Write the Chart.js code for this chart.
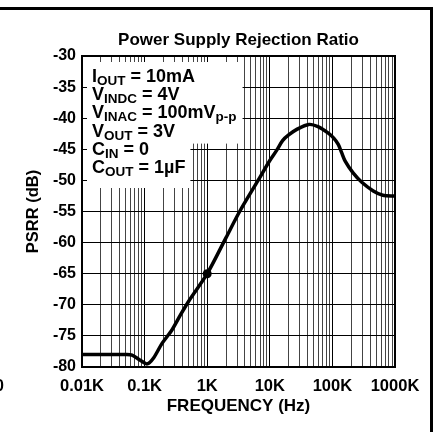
<!DOCTYPE html>
<html>
<head>
<meta charset="utf-8">
<script src="https://cdn.jsdelivr.net/npm/chart.js@4.4.0/dist/chart.umd.min.js"></script>
<style>
  html, body { margin: 0; padding: 0; background: #fff; }
  #wrap { position: relative; width: 435px; height: 432px; overflow: hidden; }
  #frame { position: absolute; left: -10px; top: 7px; width: 443px; height: 440px; box-sizing: border-box;
           border-top: 3px solid #000; border-right: 3px solid #000; pointer-events: none; }
  #stray { position: absolute; left: -5px; top: 377px; font: bold 16px "Liberation Sans", Arial, sans-serif; }
</style>
</head>
<body>
<div id="wrap">
  <canvas id="psrr-chart" width="435" height="432"></canvas>
  <div id="frame"></div>
  <div id="stray">0</div>
</div>
<script>
// curve
const freqHz = [10, 30, 50, 63, 85, 110, 140, 190, 275, 380, 515, 1000, 2000, 3300, 6500,
  10000, 13000, 16000, 20000, 27000, 42000, 60000, 86000, 105000, 124000, 140000, 160000, 214000,
  295000, 450000, 640000, 1000000];
const psrrDb = [-78, -78, -78, -78.1, -78.9, -79.5, -78.5, -76.2, -74, -71.5, -69.3, -65, -59.2, -55, -50,
  -46.8, -45.1, -43.6, -42.7, -41.8, -41, -41.4, -42.4, -43.2, -44.2, -45.5, -46.9, -48.8,
  -50.3, -51.7, -52.4, -52.5];
const markerFreq = 1000;

const decadeTicks = [10, 100, 1000, 10000, 100000, 1000000];
const decadeLabels = ['0.01K', '0.1K', '1K', '10K', '100K', '1000K'];

const conditions = [
  [['I', 0], ['OUT', 1], [' = 10mA', 0]],
  [['V', 0], ['INDC', 1], [' = 4V', 0]],
  [['V', 0], ['INAC', 1], [' = 100mV', 0], ['p-p', 1]],
  [['V', 0], ['OUT', 1], [' = 3V', 0]],
  [['C', 0], ['IN', 1], [' = 0', 0]],
  [['C', 0], ['OUT', 1], [' = 1µF', 0]]
];

const FAMILY = '"Liberation Sans", Arial, Helvetica, sans-serif';
Chart.defaults.font.family = FAMILY;
Chart.defaults.color = '#000';

// grid lines at 1..9 per decade
const gridFreqs = [];
decadeTicks.forEach((d, i) => {
  if (i === decadeTicks.length - 1) { gridFreqs.push(d); return; }
  for (let m = 1; m <= 9; m++) gridFreqs.push(d * m);
});

const mainFont = 'bold 18px ' + FAMILY;
const subFont = 'bold 13.5px ' + FAMILY;

function lineWidthOf(ctx, line) {
  let w = 0;
  line.forEach(([txt, sub]) => { ctx.font = sub ? subFont : mainFont; w += ctx.measureText(txt).width; });
  return w;
}

const conditionsBox = {
  id: 'conditionsBox',
  beforeDatasetsDraw(chart) {
    const { ctx, chartArea } = chart;
    const x0 = chartArea.left + 10;
    const y0 = chartArea.top + 26;
    const gap = 18.2;
    ctx.save();
    const widths = conditions.map(l => lineWidthOf(ctx, l));
    const wTop = Math.max(...widths.slice(0, 3));
    const wBot = Math.max(...widths.slice(3));
    const bx = chartArea.left + 5;
    ctx.fillStyle = '#fff';
    const splitY = y0 + 3 * gap + 7;
    ctx.fillRect(bx, chartArea.top + 6, x0 + wTop + 6 - bx, splitY - chartArea.top - 6);
    ctx.fillRect(bx, splitY - 1, x0 + wBot + 5 - bx, y0 + 5 * gap + 15 - splitY + 1);
    ctx.fillStyle = '#000';
    ctx.textBaseline = 'alphabetic';
    ctx.textAlign = 'left';
    conditions.forEach((line, i) => {
      let x = x0;
      const y = y0 + i * gap;
      line.forEach(([txt, sub]) => {
        ctx.font = sub ? subFont : mainFont;
        ctx.fillText(txt, x, sub ? y + 3 : y);
        x += ctx.measureText(txt).width;
      });
    });
    ctx.restore();
  }
};

const plotFrame = {
  id: 'plotFrame',
  afterDraw(chart) {
    const { ctx, chartArea } = chart;
    ctx.save();
    ctx.strokeStyle = '#000';
    ctx.lineWidth = 2;
    ctx.strokeRect(chartArea.left, chartArea.top, chartArea.right - chartArea.left, chartArea.bottom - chartArea.top);
    ctx.restore();
  }
};

new Chart(document.querySelector('#psrr-chart').getContext('2d'), {
  type: 'line',
  data: {
    datasets: [{
      data: freqHz.map((f, i) => ({ x: f, y: psrrDb[i] })),
      borderColor: '#000',
      borderWidth: 3.5,
      pointRadius: ctx => freqHz[ctx.dataIndex] === markerFreq ? 4.5 : 0,
      pointBackgroundColor: '#000',
      pointBorderWidth: 0,
      tension: 0.3,
      borderJoinStyle: 'round',
      clip: 4
    }]
  },
  options: {
    responsive: false,
    animation: false,
    layout: { padding: { left: 0, right: 40, top: 0, bottom: 0 } },
    plugins: {
      legend: { display: false },
      tooltip: { enabled: false },
      title: {
        display: true,
        text: 'Power Supply Rejection Ratio',
        fullSize: false,
        color: '#000',
        font: { size: 17, weight: 'bold' },
        padding: { top: 30, bottom: 5.6 }
      }
    },
    scales: {
      x: {
        type: 'logarithmic',
        min: 10,
        max: 1000000,
        afterBuildTicks(scale) {
          scale.ticks = gridFreqs.map(v => ({ value: v, major: decadeTicks.includes(v) }));
        },
        afterFit(scale) { scale.height = 65; },
        ticks: {
          autoSkip: false,
          maxRotation: 0,
          padding: 10,
          color: '#000',
          font: { size: 16.5, weight: 'bold' },
          callback: v => {
            const i = decadeTicks.indexOf(v);
            return i >= 0 ? decadeLabels[i] : '';
          }
        },
        grid: {
          drawTicks: false,
          lineWidth: 1,
          color: c => (c.tick && decadeTicks.includes(c.tick.value)) ? '#000' : '#444'
        },
        border: { color: '#000', width: 2 },
        title: {
          display: true,
          text: 'FREQUENCY (Hz)',
          color: '#000',
          font: { size: 17, weight: 'bold' },
          padding: { top: 0, bottom: 15 }
        }
      },
      y: {
        min: -80,
        max: -30,
        afterFit(scale) { scale.width = 82; },
        ticks: {
          stepSize: 5,
          padding: 6,
          color: '#000',
          font: { size: 16, weight: 'bold' }
        },
        grid: { drawTicks: false, color: '#000', lineWidth: 1 },
        border: { color: '#000', width: 2 },
        title: {
          display: true,
          text: 'PSRR (dB)',
          color: '#000',
          font: { size: 16.5, weight: 'bold' },
          padding: { top: 24, bottom: 0 }
        }
      }
    }
  },
  plugins: [conditionsBox, plotFrame]
});
</script>
</body>
</html>
